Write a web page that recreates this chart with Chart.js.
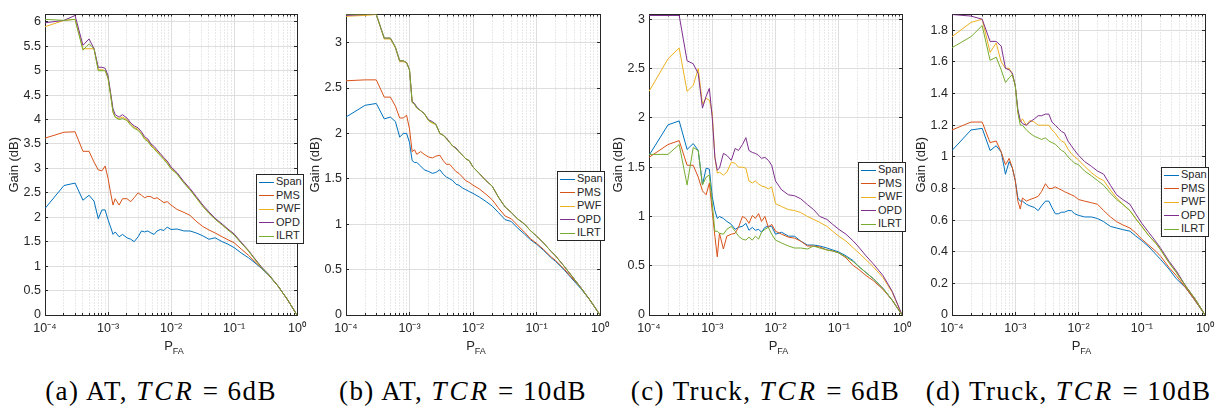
<!DOCTYPE html>
<html>
<head>
<meta charset="utf-8">
<title>Gain vs PFA</title>
<script src="https://cdn.jsdelivr.net/npm/chart.js@4.4.0/dist/chart.umd.min.js"></script>
<style>
  body { margin: 0; background: #fff; }
  #figure { position: relative; width: 1232px; height: 415px; overflow: hidden; font-family: "Liberation Sans", Arial, sans-serif; color: #262626; }
  .panel { position: absolute; top: 0; }
  .legend { position: absolute; background: #fff; border: 1px solid #262626; font-size: 11px; line-height: 13.6px; padding: 0 0 0 2px; box-sizing: border-box; }
  .legend div { white-space: nowrap; }
  .legend i { display: inline-block; width: 15px; height: 0; border-top: 1px solid; vertical-align: middle; margin-right: 2px; }
  .xlabel { position: absolute; top: 338px; width: 60px; text-align: center; font-size: 13px; }
  .xlabel sub { font-size: 9px; vertical-align: -4px; }
  .caption { position: absolute; top: 378px; width: 340px; line-height: 27px; text-align: center; font-family: "Liberation Serif", "Times New Roman", serif; font-size: 27px; letter-spacing: 1.4px; color: #000; white-space: nowrap; }
  .caption i { letter-spacing: 3px; }
</style>
</head>
<body>
<div id="figure"></div>
<script>
document.addEventListener('DOMContentLoaded', function () {
  // P_FA grid shared by all four panels
  const pfa = [1e-4, 2e-4, 3e-4, 4e-4, 5e-4, 6e-4, 7e-4, 8e-4, 9e-4, 1e-3,
    1.1e-3, 1.2e-3, 1.3e-3, 1.5e-3, 1.7e-3,
    2e-3, 2.3e-3, 2.6e-3, 3e-3, 3.4e-3, 3.8e-3, 4.3e-3, 4.8e-3, 5.4e-3, 6e-3, 6.8e-3, 7.7e-3, 8.7e-3,
    1e-2, 1.25e-2, 1.6e-2, 2e-2, 2.5e-2, 3.2e-2, 4e-2, 5e-2, 6.5e-2, 8e-2,
    0.1, 0.13, 0.17, 0.2, 0.27, 0.35, 0.5, 0.7, 1];

  const methods = ['Span', 'PMS', 'PWF', 'OPD', 'ILRT'];
  const colors = ['#0072BD', '#D95319', '#EDB120', '#7E2F8E', '#77AC30'];
  const decades = [1e-4, 1e-3, 1e-2, 1e-1, 1];
  const minorSteps = [2, 3, 4, 5, 6, 7, 8, 9];

  // (a) AT, TCR = 6dB
  const spanA = [2.18, 2.65, 2.70, 2.35, 2.45, 2.33, 1.97, 2.15, 2.15, 1.95,
    1.80, 1.65, 1.70, 1.60, 1.65,
    1.58, 1.55, 1.50, 1.60, 1.72, 1.70, 1.72, 1.68, 1.65, 1.72, 1.75, 1.73, 1.80,
    1.75, 1.76, 1.72, 1.72, 1.68, 1.62, 1.55, 1.58, 1.50, 1.45,
    1.38, 1.27, 1.17, 1.10, 0.96, 0.82, 0.59, 0.32, 0];
  const pmsA = [3.62, 3.74, 3.75, 3.35, 3.35, 3.13, 2.97, 2.95, 3.05, 2.80,
    2.50, 2.25, 2.38, 2.25, 2.38,
    2.38, 2.32, 2.40, 2.50, 2.45, 2.40, 2.43, 2.42, 2.38, 2.40, 2.35, 2.30, 2.32,
    2.25, 2.16, 2.10, 2.04, 1.92, 1.81, 1.74, 1.68, 1.60, 1.54,
    1.48, 1.35, 1.22, 1.13, 0.97, 0.83, 0.59, 0.32, 0];
  const pwfA = [5.90, 6.03, 6.05, 5.45, 5.45, 5.45, 5.02, 5.02, 5.00, 4.85,
    4.50, 4.15, 4.05, 4.02, 4.05,
    4.00, 3.90, 3.84, 3.80, 3.72, 3.62, 3.57, 3.48, 3.42, 3.35, 3.28, 3.20, 3.12,
    3.00, 2.89, 2.71, 2.57, 2.41, 2.23, 2.09, 1.97, 1.85, 1.75,
    1.65, 1.48, 1.31, 1.19, 0.98, 0.83, 0.59, 0.32, 0];
  const opdA = [5.98, 6.03, 6.13, 5.52, 5.65, 5.45, 5.07, 5.07, 5.05, 4.90,
    4.55, 4.22, 4.10, 4.05, 4.10,
    4.03, 3.93, 3.87, 3.83, 3.75, 3.65, 3.60, 3.50, 3.45, 3.38, 3.30, 3.22, 3.15,
    3.03, 2.91, 2.73, 2.59, 2.43, 2.25, 2.11, 1.98, 1.86, 1.76,
    1.66, 1.49, 1.32, 1.20, 0.99, 0.84, 0.59, 0.32, 0];
  const ilrtA = [6.05, 6.03, 6.05, 5.42, 5.55, 5.45, 5.00, 5.00, 5.00, 4.85,
    4.50, 4.15, 4.05, 4.00, 4.02,
    3.98, 3.88, 3.82, 3.78, 3.70, 3.60, 3.55, 3.46, 3.40, 3.33, 3.26, 3.18, 3.10,
    2.99, 2.88, 2.70, 2.56, 2.40, 2.22, 2.08, 1.96, 1.84, 1.74,
    1.64, 1.47, 1.31, 1.19, 0.98, 0.83, 0.59, 0.32, 0];

  // (b) AT, TCR = 10dB
  const spanB = [2.18, 2.31, 2.33, 2.16, 2.18, 2.13, 1.96, 2.00, 2.00, 1.90,
    1.70, 1.68, 1.68, 1.64, 1.60,
    1.58, 1.56, 1.57, 1.60, 1.55, 1.52, 1.50, 1.48, 1.44, 1.43, 1.40, 1.38, 1.36,
    1.34, 1.30, 1.25, 1.20, 1.13, 1.05, 1.03, 0.96, 0.89, 0.83,
    0.78, 0.71, 0.63, 0.59, 0.50, 0.41, 0.29, 0.16, 0];
  const pmsB = [2.58, 2.59, 2.59, 2.40, 2.40, 2.30, 2.17, 2.17, 2.20, 2.05,
    1.80, 1.82, 1.77, 1.80, 1.77,
    1.74, 1.73, 1.75, 1.76, 1.70, 1.66, 1.66, 1.62, 1.58, 1.56, 1.52, 1.48, 1.46,
    1.43, 1.39, 1.33, 1.27, 1.18, 1.09, 1.06, 0.99, 0.91, 0.84,
    0.79, 0.72, 0.64, 0.60, 0.51, 0.42, 0.30, 0.16, 0];
  const pwfB = [3.29, 3.30, 3.31, 3.04, 3.04, 2.94, 2.79, 2.79, 2.78, 2.70,
    2.35, 2.32, 2.28, 2.25, 2.22,
    2.14, 2.11, 2.10, 2.00, 1.98, 1.95, 1.90, 1.86, 1.84, 1.80, 1.76, 1.72, 1.70,
    1.63, 1.56, 1.48, 1.42, 1.30, 1.19, 1.13, 1.06, 1.00, 0.93,
    0.87, 0.79, 0.70, 0.65, 0.54, 0.44, 0.30, 0.16, 0];
  const opdB = [3.30, 3.31, 3.31, 3.05, 3.05, 2.95, 2.80, 2.80, 2.78, 2.70,
    2.35, 2.33, 2.29, 2.25, 2.22,
    2.15, 2.13, 2.10, 2.00, 1.98, 1.95, 1.90, 1.86, 1.84, 1.80, 1.76, 1.72, 1.70,
    1.63, 1.56, 1.48, 1.42, 1.30, 1.19, 1.13, 1.06, 1.00, 0.93,
    0.87, 0.79, 0.70, 0.65, 0.54, 0.44, 0.30, 0.16, 0];
  const ilrtB = [3.31, 3.31, 3.31, 3.05, 3.05, 2.95, 2.80, 2.80, 2.78, 2.70,
    2.34, 2.32, 2.28, 2.25, 2.22,
    2.14, 2.12, 2.10, 2.00, 1.98, 1.94, 1.90, 1.86, 1.83, 1.80, 1.76, 1.72, 1.70,
    1.63, 1.56, 1.48, 1.42, 1.30, 1.19, 1.13, 1.06, 1.00, 0.93,
    0.87, 0.79, 0.70, 0.65, 0.54, 0.44, 0.30, 0.16, 0];

  // (c) Truck, TCR = 6dB
  const spanC = [1.62, 1.93, 1.97, 1.68, 1.74, 1.67, 1.32, 1.49, 1.48, 1.20,
    1.06, 0.98, 1.00, 0.98, 0.95,
    0.92, 0.87, 0.89, 0.90, 0.93, 0.86, 0.89, 0.86, 0.87, 0.84, 0.89, 0.90, 0.90,
    0.82, 0.84, 0.80, 0.80, 0.75, 0.71, 0.71, 0.70, 0.68, 0.66,
    0.64, 0.60, 0.55, 0.50, 0.43, 0.37, 0.27, 0.15, 0];
  const pmsC = [1.60, 1.73, 1.77, 1.52, 1.52, 1.40, 1.26, 1.22, 1.34, 1.05,
    0.80, 0.59, 0.83, 0.67, 0.80,
    0.82, 0.83, 0.89, 1.00, 0.98, 0.93, 1.01, 0.98, 1.03, 0.95, 1.00, 0.89, 0.92,
    0.85, 0.82, 0.79, 0.78, 0.75, 0.70, 0.70, 0.69, 0.66, 0.65,
    0.63, 0.58, 0.50, 0.47, 0.40, 0.35, 0.26, 0.15, 0];
  const pwfC = [2.27, 2.60, 2.71, 2.27, 2.33, 2.50, 2.14, 2.20, 2.18, 2.05,
    1.60, 1.44, 1.45, 1.42, 1.45,
    1.55, 1.54, 1.50, 1.50, 1.49, 1.36, 1.34, 1.36, 1.33, 1.31, 1.30, 1.28, 1.30,
    1.13, 1.10, 1.07, 1.06, 1.04, 1.00, 0.97, 0.94, 0.90, 0.85,
    0.80, 0.75, 0.68, 0.64, 0.56, 0.49, 0.38, 0.23, 0];
  const opdC = [3.04, 3.04, 3.04, 2.58, 2.55, 2.45, 2.10, 2.22, 2.30, 2.00,
    1.60, 1.47, 1.49, 1.64, 1.62,
    1.57, 1.69, 1.67, 1.73, 1.80, 1.67, 1.65, 1.64, 1.62, 1.59, 1.60, 1.57, 1.52,
    1.36, 1.27, 1.22, 1.21, 1.18, 1.12, 1.07, 1.00, 0.97, 0.92,
    0.87, 0.82, 0.75, 0.70, 0.60, 0.52, 0.40, 0.24, 0];
  const ilrtC = [1.63, 1.63, 1.73, 1.32, 1.70, 1.67, 1.32, 1.40, 1.42, 1.13,
    0.85, 0.85, 0.83, 0.82, 0.87,
    0.90, 0.85, 0.80, 0.77, 0.76, 0.79, 0.76, 0.80, 0.77, 0.84, 0.87, 0.89, 0.82,
    0.76, 0.73, 0.70, 0.68, 0.68, 0.67, 0.70, 0.68, 0.66, 0.65,
    0.63, 0.59, 0.54, 0.50, 0.43, 0.37, 0.27, 0.15, 0];

  // (d) Truck, TCR = 10dB
  const spanD = [1.04, 1.17, 1.18, 1.04, 1.07, 1.03, 0.89, 0.97, 0.93, 0.85,
    0.74, 0.72, 0.72, 0.70, 0.69,
    0.68, 0.66, 0.69, 0.72, 0.72, 0.68, 0.64, 0.64, 0.65, 0.65, 0.66, 0.66, 0.64,
    0.63, 0.62, 0.62, 0.61, 0.59, 0.56, 0.55, 0.54, 0.53, 0.50,
    0.47, 0.43, 0.38, 0.35, 0.29, 0.23, 0.17, 0.09, 0];
  const pmsD = [1.17, 1.22, 1.22, 1.09, 1.10, 1.03, 0.95, 0.99, 0.93, 0.85,
    0.72, 0.67, 0.74, 0.72, 0.73,
    0.74, 0.75, 0.78, 0.83, 0.80, 0.80, 0.81, 0.80, 0.79, 0.78, 0.77, 0.76, 0.75,
    0.73, 0.72, 0.71, 0.70, 0.66, 0.62, 0.59, 0.57, 0.55, 0.52,
    0.48, 0.44, 0.40, 0.37, 0.30, 0.25, 0.17, 0.09, 0];
  const pwfD = [1.76, 1.85, 1.87, 1.66, 1.72, 1.60, 1.56, 1.56, 1.52, 1.45,
    1.28, 1.22, 1.24, 1.20, 1.23,
    1.22, 1.20, 1.20, 1.20, 1.20, 1.17, 1.15, 1.12, 1.10, 1.09, 1.05, 1.02, 1.00,
    0.98, 0.94, 0.90, 0.87, 0.85, 0.79, 0.74, 0.70, 0.66, 0.61,
    0.56, 0.50, 0.45, 0.41, 0.33, 0.27, 0.18, 0.10, 0];
  const opdD = [1.90, 1.89, 1.87, 1.73, 1.73, 1.70, 1.56, 1.55, 1.53, 1.45,
    1.30, 1.23, 1.21, 1.20, 1.22,
    1.24, 1.26, 1.26, 1.27, 1.27, 1.22, 1.20, 1.18, 1.16, 1.15, 1.10, 1.07, 1.04,
    1.01, 0.97, 0.94, 0.91, 0.89, 0.82, 0.76, 0.73, 0.70, 0.64,
    0.58, 0.52, 0.46, 0.42, 0.34, 0.28, 0.18, 0.10, 0];
  const ilrtD = [1.69, 1.76, 1.83, 1.61, 1.63, 1.55, 1.47, 1.50, 1.52, 1.45,
    1.28, 1.20, 1.20, 1.17, 1.15,
    1.13, 1.12, 1.11, 1.12, 1.10, 1.09, 1.08, 1.06, 1.04, 1.03, 1.00, 0.98, 0.96,
    0.95, 0.91, 0.88, 0.85, 0.82, 0.77, 0.73, 0.70, 0.66, 0.61,
    0.56, 0.50, 0.45, 0.41, 0.33, 0.27, 0.18, 0.10, 0];

  const AXIS_W = 45;     // room left of the plot box for tick labels + title
  const PAD_R = 12;
  const CANVAS_H = 345;
  const BOX_TOP = 4;
  const AXIS_H = 30;     // room below the plot box for x tick labels
  const TICK = -3;       // negative length = tick marks point into the box, like MATLAB
  const ink = '#262626';
  const fontFamily = '"Liberation Sans", Arial, sans-serif';

  const panels = [
    { left: 45, width: 258, yMax: 6.15, step: 0.5, series: [spanA, pmsA, pwfA, opdA, ilrtA],
      legend: [256, 174], caption: ['(a) AT, ', 'TCR', ' = 6dB'] },
    { left: 346, width: 260, yMax: 3.31, step: 0.5, series: [spanB, pmsB, pwfB, opdB, ilrtB],
      legend: [557, 171], caption: ['(b) AT, ', 'TCR', ' = 10dB'] },
    { left: 649, width: 259, yMax: 3.05, step: 0.5, series: [spanC, pmsC, pwfC, opdC, ilrtC],
      legend: [858, 162], caption: ['(c) Truck, ', 'TCR', ' = 6dB'] },
    { left: 952, width: 259, yMax: 1.9, step: 0.2, series: [spanD, pmsD, pwfD, opdD, ilrtD],
      legend: [1161, 167], caption: ['(d) Truck, ', 'TCR', ' = 10dB'] }
  ];

  const sup = { '-': '\u207B', '0': '\u2070', '1': '\u00B9', '2': '\u00B2', '3': '\u00B3', '4': '\u2074' };
  const isDecade = v => Math.abs(Math.log10(v) - Math.round(Math.log10(v))) < 1e-9;

  const minorTicks = [];
  decades.slice(0, -1).forEach(d => minorSteps.forEach(m => minorTicks.push(d * m)));

  function yTicks(p) {
    const list = [];
    for (let v = 0; v <= p.yMax + 1e-9; v += p.step) list.push({ value: Math.round(v * 100) / 100 });
    return list;
  }

  function buildConfig(p) {
    const datasets = p.series.map((values, i) => ({
      label: methods[i],
      data: pfa.map((x, j) => ({ x: x, y: values[j] })),
      borderColor: colors[i],
      borderWidth: 1,
      pointRadius: 0,
      tension: 0,
      order: methods.length - i
    }));

    return {
      type: 'line',
      data: { datasets: datasets },
      options: {
        responsive: false,
        animation: false,
        events: [],
        layout: { padding: { top: BOX_TOP, right: PAD_R, left: 0, bottom: 0 } },
        plugins: { legend: { display: false }, tooltip: { enabled: false } },
        scales: {
          x: {
            type: 'logarithmic', min: 1e-4, max: 1, position: 'bottom', weight: 1,
            afterBuildTicks: s => { s.ticks = decades.map(v => ({ value: v, major: true })); },
            afterFit: s => { s.height = AXIS_H; },
            ticks: {
              autoSkip: false, maxRotation: 0, padding: 9, color: ink,
              font: { size: 12.5, family: fontFamily },
              callback: v => '10' + String(Math.round(Math.log10(v))).split('').map(c => sup[c]).join('')
            },
            grid: { color: '#dedede', tickColor: ink, tickLength: TICK },
            border: { color: ink, width: 1 }
          },
          // minor decade grid (dotted), sits right against the plot box
          xm: {
            type: 'logarithmic', min: 1e-4, max: 1, position: 'bottom', weight: -1,
            afterBuildTicks: s => { s.ticks = minorTicks.map(v => ({ value: v })); },
            afterFit: s => { s.height = 0; },
            ticks: { display: false },
            grid: { color: '#d2d2d2', tickColor: ink, tickLength: -2 },
            border: { display: false, dash: [1, 2] }
          },
          xt: {
            type: 'logarithmic', min: 1e-4, max: 1, position: 'top',
            afterBuildTicks: s => { s.ticks = decades.concat(minorTicks).map(v => ({ value: v })); },
            afterFit: s => { s.height = 0; },
            ticks: { display: false },
            grid: {
              drawOnChartArea: false, tickColor: ink,
              tickLength: ctx => (ctx.tick && isDecade(ctx.tick.value)) ? TICK : -2
            },
            border: { color: ink, width: 1 }
          },
          y: {
            min: 0, max: p.yMax, position: 'left',
            afterBuildTicks: s => { s.ticks = yTicks(p); },
            afterFit: s => { s.width = AXIS_W; },
            ticks: {
              padding: 7, color: ink,
              font: { size: 12.5, family: fontFamily },
              callback: v => String(Math.round(v * 100) / 100)
            },
            grid: { color: '#dedede', tickColor: ink, tickLength: TICK },
            border: { color: ink, width: 1 },
            title: {
              display: true, text: 'Gain (dB)', color: ink,
              font: { size: 13, family: fontFamily },
              padding: { top: 7, bottom: 0 }
            }
          },
          yr: {
            min: 0, max: p.yMax, position: 'right',
            afterBuildTicks: s => { s.ticks = yTicks(p); },
            afterFit: s => { s.width = 0; },
            ticks: { display: false },
            grid: { drawOnChartArea: false, tickColor: ink, tickLength: TICK },
            border: { color: ink, width: 1 }
          }
        }
      }
    };
  }

  const fig = document.getElementById('figure');

  panels.forEach(p => {
    const box = document.createElement('div');
    box.className = 'panel';
    box.style.left = (p.left - AXIS_W) + 'px';
    const canvas = document.createElement('canvas');
    canvas.width = p.width + AXIS_W + PAD_R;
    canvas.height = CANVAS_H;
    box.appendChild(canvas);
    fig.appendChild(box);
    new Chart(canvas, buildConfig(p));

    const legend = document.createElement('div');
    legend.className = 'legend';
    legend.style.left = p.legend[0] + 'px';
    legend.style.top = p.legend[1] + 'px';
    legend.style.width = '48px';
    legend.style.height = '70px';
    legend.innerHTML = methods.map((m, i) =>
      `<div><i style="border-color:${colors[i]}"></i>${m}</div>`).join('');
    fig.appendChild(legend);

    const center = p.left + p.width / 2;
    const xlabel = document.createElement('div');
    xlabel.className = 'xlabel';
    xlabel.style.left = (center - 30) + 'px';
    xlabel.innerHTML = 'P<sub>FA</sub>';
    fig.appendChild(xlabel);

    const caption = document.createElement('div');
    caption.className = 'caption';
    caption.style.left = (center - 13 - 170) + 'px';
    caption.innerHTML = `${p.caption[0]}<i>${p.caption[1]}</i>${p.caption[2]}`;
    fig.appendChild(caption);
  });
});
</script>
</body>
</html>
